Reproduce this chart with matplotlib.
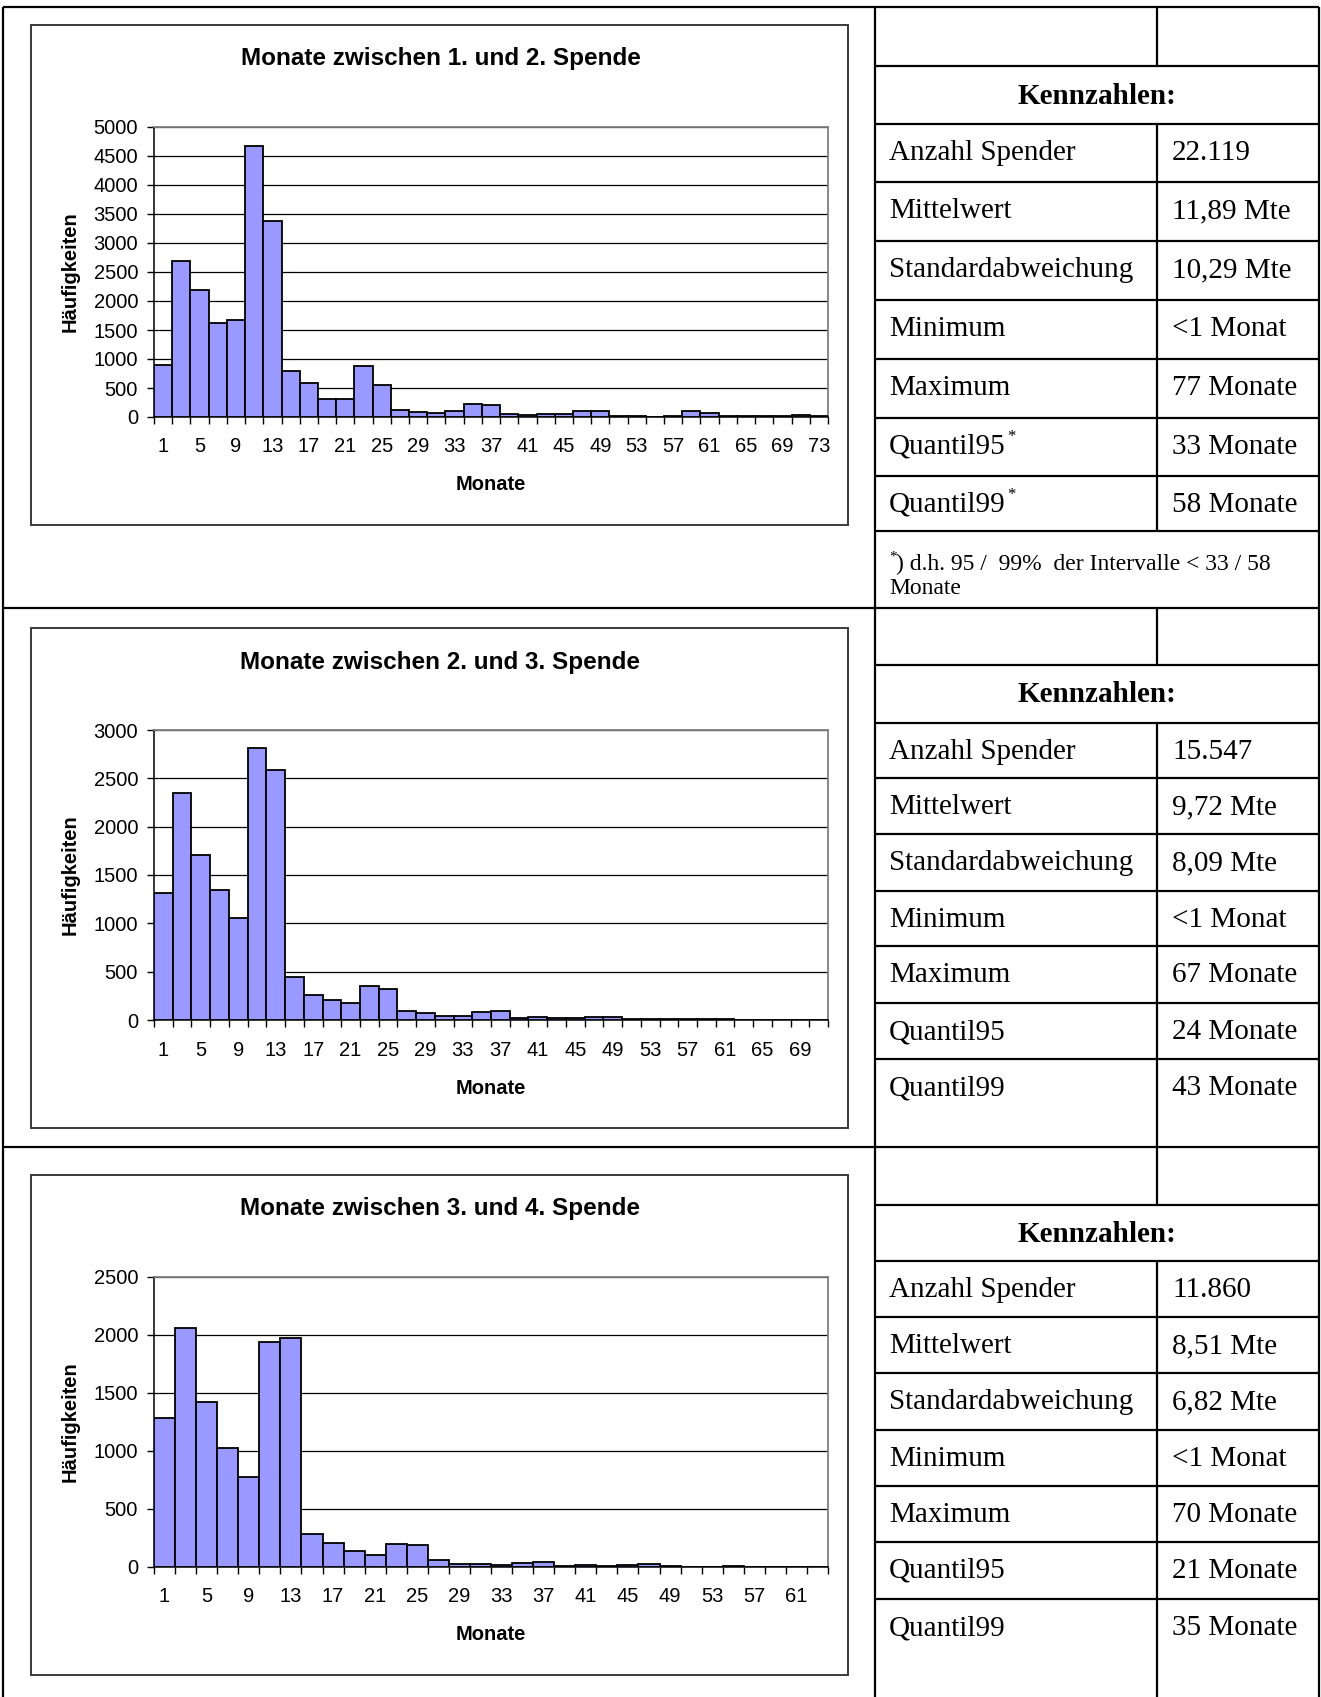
import matplotlib
matplotlib.use("Agg")
import matplotlib.pyplot as plt
from matplotlib.patches import Rectangle

W, H = 1321, 1697
DPI = 100

# histogram data, 2-month bins (label = first month of the bin)
months_12 = list(range(1, 75, 2))
counts_12 = [900, 2690, 2190, 1620, 1670, 4680, 3380, 800, 580, 315,
             305, 880, 550, 120, 86, 69, 109, 223, 212, 46,
             34, 46, 46, 97, 97, 23, 23, 6, 23, 97,
             69, 17, 23, 11, 11, 40, 11]

months_23 = list(range(1, 73, 2))
counts_23 = [1317, 2348, 1703, 1348, 1058, 2813, 2589, 441, 259, 210,
             179, 355, 317, 93, 72, 45, 45, 83, 93, 21,
             31, 21, 21, 28, 34, 10, 10, 14, 14, 14,
             7, 2, 1, 1, 1, 1]

months_34 = list(range(1, 65, 2))
counts_34 = [1282, 2059, 1425, 1029, 777, 1938, 1975, 287, 204, 135,
             106, 201, 189, 60, 26, 26, 20, 37, 40, 9,
             14, 9, 14, 26, 9, 3, 3, 9, 1, 1, 1, 1]

titles = ["Monate zwischen 1. und 2. Spende",
          "Monate zwischen 2. und 3. Spende",
          "Monate zwischen 3. und 4. Spende"]
ymax = [5000, 3000, 2500]

stat_names = ["Anzahl Spender", "Mittelwert", "Standardabweichung", "Minimum",
              "Maximum", "Quantil95", "Quantil99"]
stats_12 = ["22.119", "11,89 Mte", "10,29 Mte", "<1 Monat", "77 Monate", "33 Monate", "58 Monate"]
stats_23 = ["15.547", "9,72 Mte", "8,09 Mte", "<1 Monat", "67 Monate", "24 Monate", "43 Monate"]
stats_34 = ["11.860", "8,51 Mte", "6,82 Mte", "<1 Monat", "70 Monate", "21 Monate", "35 Monate"]
footnote = ") d.h. 95 /  99%  der Intervalle < 33 / 58"
footnote2 = "Monate"

SANS = "Liberation Sans"
SERIF = "Liberation Serif"
BAR = "#9999FF"

fig = plt.figure(figsize=(W / DPI, H / DPI), dpi=DPI)
bg = fig.add_axes([0, 0, 1, 1])
bg.set_xlim(0, W)
bg.set_ylim(H, 0)
bg.axis("off")


def px_axes(x0, y0, x1, y1):
    return fig.add_axes([x0 / W, 1 - y1 / H, (x1 - x0) / W, (y1 - y0) / H])


def hline(y, x0, x1):
    bg.plot([x0, x1], [y, y], color="black", lw=1.6, solid_capstyle="butt")


def vline(x, y0, y1):
    bg.plot([x, x], [y0, y1], color="black", lw=1.6, solid_capstyle="butt")


# ---- outer table grid
LEFT, RIGHT, TOP = 3, 1319, 6.5
MID, INNER = 875, 1157
hline(TOP, LEFT, RIGHT)
vline(LEFT, TOP, H)
vline(RIGHT, TOP, H)
vline(MID, TOP, H)
hline(608, LEFT, RIGHT)
hline(1147, LEFT, RIGHT)

sections = [
    dict(top=TOP, lines=[66, 124, 182, 241, 300, 359, 418, 476, 531], end=608,
         stats=stats_12, star=True),
    dict(top=608, lines=[665, 723, 778, 834, 891, 946, 1003, 1059], end=1147,
         stats=stats_23, star=False),
    dict(top=1147, lines=[1205, 1261, 1317, 1373, 1430, 1486, 1542, 1599], end=H,
         stats=stats_34, star=False),
]

fig.canvas.draw()
renderer = fig.canvas.get_renderer()

for sec in sections:
    ln = sec["lines"]
    for y in ln:
        hline(y, MID, RIGHT)
    # inner vertical: empty first row, and the stat rows
    vline(INNER, sec["top"], ln[0])
    stat_end = ln[8] if len(ln) > 8 else sec["end"]
    vline(INNER, ln[1], stat_end)
    bg.text((MID + RIGHT) / 2, (ln[0] + ln[1]) / 2 + 1, "Kennzahlen:", family=SERIF,
            fontsize=21, fontweight="bold", ha="center", va="center")
    row_tops = ln[1:8]
    for i, (name, val) in enumerate(zip(stat_names, sec["stats"])):
        top = row_tops[i]
        yc = top + 29
        t = bg.text(889, yc, name, family=SERIF, fontsize=21, va="center", ha="left")
        bg.text(1172, yc, val, family=SERIF, fontsize=21, va="center", ha="left")
        if sec["star"] and name.startswith("Quantil"):
            bb = t.get_window_extent(renderer)
            bg.text(889 + bb.width + 1, yc - 10, "*", family=SERIF, fontsize=12,
                    va="center", ha="left")

# footnote under first table
bg.text(889, 557, "*", family=SERIF, fontsize=11, va="center", ha="left")
bg.text(896, 564, footnote, family=SERIF, fontsize=17, va="center", ha="left")
bg.text(889, 589, footnote2, family=SERIF, fontsize=17, va="center", ha="left")

# ---- charts
charts = [(months_12, counts_12), (months_23, counts_23), (months_34, counts_34)]
box_tops = [25, 628, 1175]
PX0, PX1 = 154, 828

for k, ((months, counts), T) in enumerate(zip(charts, box_tops)):
    bg.add_patch(Rectangle((31, T), 817, 500, fill=False, edgecolor="#3a3a3a", lw=1.4))
    bg.text((31 + 848) / 2 + 1, T + 34, titles[k], family=SANS, fontsize=17.5,
            fontweight="bold", ha="center", va="center")

    ax = px_axes(PX0, T + 102, PX1, T + 392)
    n = len(counts)
    xs = list(range(n))
    ax.bar(xs, counts, width=1.0, color=BAR, edgecolor="black", lw=1.3, zorder=3)
    ax.set_xlim(-0.5, n - 0.5)
    ax.set_ylim(0, ymax[k])
    ax.set_yticks(range(0, ymax[k] + 1, 500))
    ax.set_yticklabels([str(v) for v in range(0, ymax[k] + 1, 500)], family=SANS, fontsize=14.5)
    ax.yaxis.grid(True, color="black", lw=0.9)
    ax.set_axisbelow(True)
    ax.set_xticks([i - 0.5 for i in range(n + 1)])
    ax.set_xticklabels([])
    ax.tick_params(axis="both", direction="out", length=5, width=1, color="black")
    ax.tick_params(axis="y", pad=6.5)
    for s in ("left", "bottom"):
        ax.spines[s].set_color("black")
        ax.spines[s].set_linewidth(1.1)
    for s in ("top", "right"):
        ax.spines[s].set_color("#808080")
        ax.spines[s].set_linewidth(1.3)
    for i in range(0, n, 2):
        ax.text(i, -30 / 290, str(months[i]), transform=ax.get_xaxis_transform(),
                family=SANS, fontsize=14.5, ha="center", va="center")

    bg.text((PX0 + PX1) / 2, T + 460, "Monate", family=SANS, fontsize=14.5,
            fontweight="bold", ha="center", va="center")
    bg.text(70, T + 247, "Häufigkeiten", family=SANS, fontsize=14.5,
            fontweight="bold", ha="center", va="center", rotation=90)

fig.savefig("out.png", dpi=DPI)
